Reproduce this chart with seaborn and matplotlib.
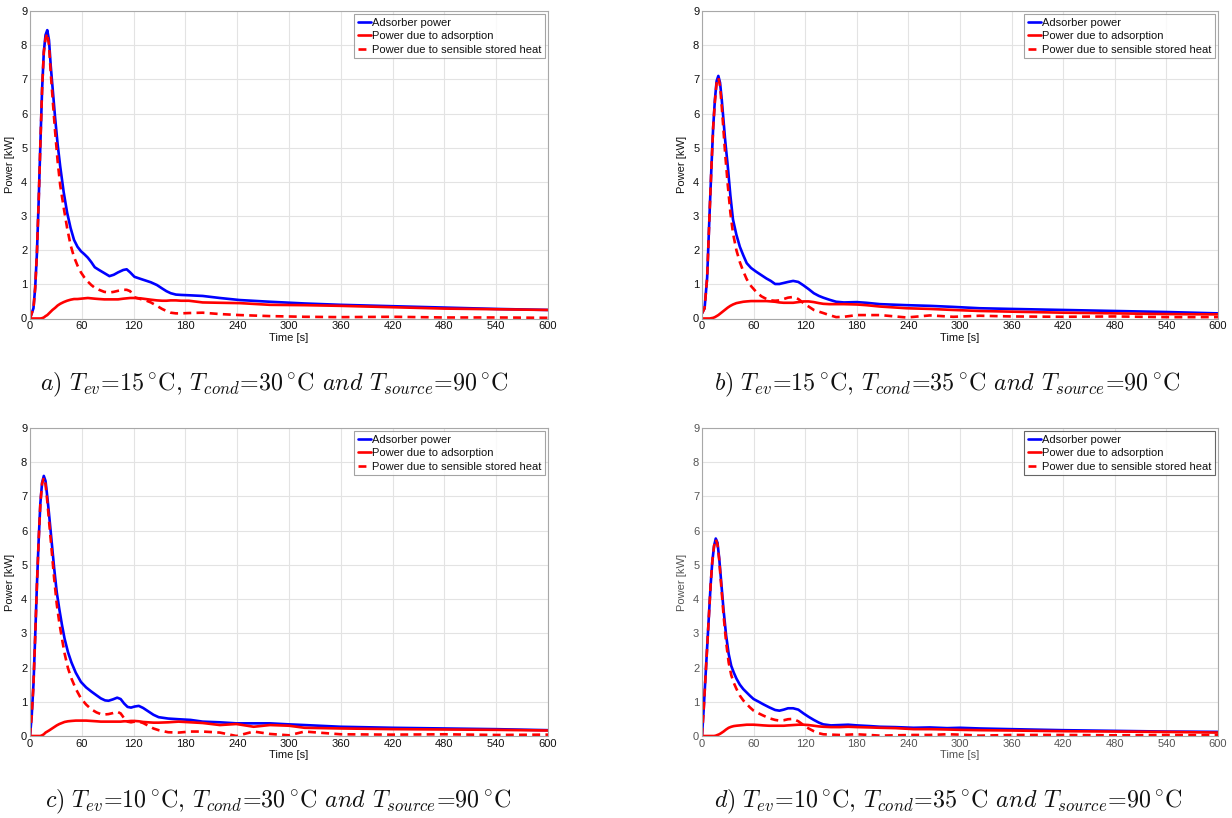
import matplotlib
matplotlib.use("Agg")
import matplotlib.pyplot as plt
import seaborn as sns
import pandas as pd

# ---- panel a: T_ev=15, T_cond=30, T_source=90 ----
time_a = [0, 4, 6, 8, 10, 12, 14, 16, 18, 20, 22, 24, 26, 29, 32, 35, 39, 43, 47, 51,
          55, 59, 63, 67, 71, 75, 80, 86, 92, 97, 102, 108, 112, 116, 121, 128, 134, 140,
          147, 153, 158, 163, 169, 175, 184, 200, 220, 243, 278, 318, 360, 420, 480, 540, 600]
adsorber_a = [0, 0.3, 0.9, 1.9, 3.4, 5.1, 6.7, 7.8, 8.3, 8.44, 8.15, 7.4, 6.8, 5.9, 5.1,
              4.45, 3.7, 3.1, 2.65, 2.3, 2.1, 1.97, 1.88, 1.78, 1.65, 1.5, 1.42, 1.33, 1.24,
              1.28, 1.35, 1.42, 1.44, 1.35, 1.22, 1.16, 1.11, 1.06, 0.98, 0.88, 0.8, 0.74,
              0.70, 0.69, 0.68, 0.66, 0.6, 0.54, 0.49, 0.44, 0.40, 0.36, 0.32, 0.28, 0.25]
adsorption_a = [0, 0, 0, 0, 0, 0, 0.01, 0.03, 0.07, 0.1, 0.15, 0.2, 0.25, 0.31, 0.38, 0.43,
                0.48, 0.52, 0.55, 0.57, 0.57, 0.58, 0.59, 0.6, 0.59, 0.58, 0.57, 0.56, 0.56,
                0.56, 0.56, 0.58, 0.59, 0.6, 0.6, 0.59, 0.57, 0.55, 0.53, 0.52, 0.52, 0.53,
                0.53, 0.52, 0.52, 0.47, 0.46, 0.45, 0.4, 0.39, 0.37, 0.33, 0.29, 0.27, 0.25]
sensible_a = [0, 0.3, 0.9, 1.9, 3.4, 5.1, 6.7, 7.8, 8.2, 8.35, 8.0, 7.2, 6.5, 5.5, 4.6, 3.9,
              3.25, 2.65, 2.15, 1.8, 1.55, 1.35, 1.2, 1.08, 0.98, 0.9, 0.84, 0.78, 0.76,
              0.78, 0.81, 0.84, 0.84, 0.80, 0.62, 0.57, 0.53, 0.47, 0.37, 0.28, 0.22, 0.17,
              0.15, 0.15, 0.16, 0.17, 0.13, 0.1, 0.07, 0.05, 0.04, 0.05, 0.03, 0.03, 0.02]

# ---- panel b: T_ev=15, T_cond=35, T_source=90 ----
time_b = [0, 3, 6, 9, 11, 13, 15, 17, 19, 21, 23, 25, 27, 30, 33, 36, 40, 44, 48, 52,
          57, 63, 69, 75, 80, 85, 90, 95, 100, 106, 112, 118, 124, 130, 136, 141, 148, 156,
          165, 180, 191, 207, 238, 265, 292, 323, 360, 420, 480, 540, 600]
adsorber_b = [0.15, 0.3, 1.2, 3.2, 4.45, 5.6, 6.4, 6.95, 7.1, 6.9, 6.4, 5.8, 5.2, 4.45,
              3.6, 2.9, 2.45, 2.1, 1.85, 1.62, 1.48, 1.37, 1.27, 1.17, 1.1, 1.01, 1.01,
              1.04, 1.07, 1.1, 1.07, 0.97, 0.86, 0.74, 0.66, 0.61, 0.55, 0.49, 0.47, 0.48,
              0.46, 0.42, 0.39, 0.37, 0.34, 0.3, 0.28, 0.25, 0.22, 0.19, 0.15]
adsorption_b = [0, 0, 0, 0, 0.01, 0.02, 0.04, 0.07, 0.1, 0.14, 0.18, 0.22, 0.26, 0.32,
                0.37, 0.41, 0.45, 0.47, 0.49, 0.5, 0.51, 0.51, 0.51, 0.51, 0.5, 0.49, 0.47,
                0.46, 0.46, 0.46, 0.48, 0.5, 0.5, 0.48, 0.45, 0.43, 0.42, 0.42, 0.42, 0.41,
                0.39, 0.35, 0.3, 0.28, 0.25, 0.22, 0.2, 0.17, 0.15, 0.13, 0.12]
sensible_b = [0.15, 0.3, 1.2, 3.2, 4.45, 5.6, 6.35, 6.9, 7.05, 6.8, 6.2, 5.5, 4.8, 3.9,
              3.1, 2.5, 2.0, 1.65, 1.38, 1.15, 0.95, 0.78, 0.65, 0.57, 0.53, 0.52, 0.53,
              0.57, 0.61, 0.63, 0.57, 0.45, 0.35, 0.25, 0.2, 0.16, 0.1, 0.04, 0.05, 0.1,
              0.1, 0.1, 0.03, 0.09, 0.05, 0.08, 0.06, 0.05, 0.06, 0.04, 0.04]

# ---- panel c: T_ev=10, T_cond=30, T_source=90 ----
time_c = [0, 2, 4, 6, 8, 10, 12, 14, 16, 18, 20, 22, 25, 28, 31, 34, 37, 40, 44, 48,
          53, 59, 65, 71, 77, 82, 87, 91, 96, 101, 105, 109, 113, 117, 121, 126, 131, 137,
          143, 149, 160, 172, 186, 200, 220, 239, 259, 278, 300, 318, 360, 420, 480, 540, 600]
adsorber_c = [0, 0.6, 1.5, 2.9, 4.4, 5.7, 6.8, 7.4, 7.6, 7.45, 7.0, 6.5, 5.7, 4.9, 4.2,
              3.7, 3.25, 2.85, 2.45, 2.15, 1.85, 1.58, 1.42, 1.3, 1.19, 1.1, 1.04, 1.03,
              1.07, 1.12, 1.08, 0.95, 0.85, 0.83, 0.86, 0.88, 0.82, 0.72, 0.62, 0.55, 0.51,
              0.49, 0.47, 0.42, 0.4, 0.37, 0.37, 0.37, 0.34, 0.32, 0.27, 0.24, 0.22, 0.2, 0.17]
adsorption_c = [0, 0, 0, 0, 0, 0, 0, 0.02, 0.05, 0.1, 0.13, 0.16, 0.21, 0.26, 0.31, 0.35,
                0.38, 0.41, 0.43, 0.44, 0.45, 0.45, 0.45, 0.44, 0.43, 0.42, 0.42, 0.42,
                0.42, 0.42, 0.42, 0.43, 0.43, 0.44, 0.44, 0.43, 0.41, 0.4, 0.39, 0.39, 0.4,
                0.42, 0.4, 0.38, 0.32, 0.35, 0.27, 0.32, 0.3, 0.24, 0.22, 0.2, 0.19, 0.18, 0.16]
sensible_c = [0, 0.6, 1.5, 2.9, 4.4, 5.7, 6.8, 7.38, 7.55, 7.35, 6.87, 6.3, 5.45, 4.6,
              3.85, 3.3, 2.85, 2.42, 1.98, 1.68, 1.38, 1.1, 0.92, 0.78, 0.69, 0.64, 0.63,
              0.64, 0.67, 0.71, 0.66, 0.52, 0.42, 0.4, 0.42, 0.42, 0.38, 0.3, 0.22, 0.17,
              0.11, 0.1, 0.13, 0.13, 0.1, 0.0, 0.13, 0.06, 0.02, 0.13, 0.05, 0.04, 0.05,
              0.03, 0.04]

# ---- panel d: T_ev=10, T_cond=35, T_source=90 ----
time_d = [0, 2, 4, 6, 8, 10, 12, 14, 16, 18, 20, 22, 25, 28, 31, 34, 37, 40, 44, 48,
          52, 56, 60, 66, 71, 78, 85, 90, 95, 100, 106, 112, 118, 124, 130, 136, 141, 150,
          160, 170, 180, 195, 207, 225, 246, 265, 285, 300, 323, 360, 420, 480, 540, 600]
adsorber_d = [0, 0.8, 1.7, 2.6, 3.5, 4.4, 5.1, 5.55, 5.77, 5.65, 5.2, 4.6, 3.7, 2.95,
              2.4, 2.05, 1.85, 1.68, 1.5, 1.37, 1.27, 1.17, 1.08, 1.0, 0.93, 0.84, 0.76,
              0.74, 0.77, 0.81, 0.81, 0.77, 0.66, 0.56, 0.47, 0.39, 0.34, 0.31, 0.32, 0.33,
              0.31, 0.29, 0.27, 0.26, 0.24, 0.25, 0.23, 0.24, 0.22, 0.2, 0.17, 0.15, 0.13, 0.12]
adsorption_d = [0, 0, 0, 0, 0, 0, 0, 0, 0.01, 0.03, 0.05, 0.08, 0.13, 0.19, 0.24, 0.27,
                0.29, 0.3, 0.31, 0.32, 0.33, 0.33, 0.33, 0.32, 0.31, 0.3, 0.3, 0.3, 0.3,
                0.31, 0.32, 0.33, 0.33, 0.32, 0.3, 0.28, 0.27, 0.26, 0.26, 0.27, 0.26, 0.25,
                0.24, 0.23, 0.2, 0.2, 0.19, 0.18, 0.17, 0.16, 0.14, 0.13, 0.12, 0.1]
sensible_d = [0, 0.8, 1.7, 2.6, 3.5, 4.4, 5.1, 5.55, 5.75, 5.6, 5.15, 4.5, 3.55, 2.75,
              2.15, 1.78, 1.55, 1.38, 1.18, 1.04, 0.93, 0.83, 0.74, 0.66, 0.6, 0.52, 0.47,
              0.45, 0.46, 0.49, 0.5, 0.43, 0.32, 0.22, 0.14, 0.08, 0.05, 0.04, 0.03, 0.04,
              0.05, 0.03, 0.01, 0.02, 0.03, 0.03, 0.05, 0.04, 0.01, 0.03, 0.03, 0.02, 0.03, 0.02]

x_ticks = [0, 60, 120, 180, 240, 300, 360, 420, 480, 540, 600]
y_ticks = [0, 1, 2, 3, 4, 5, 6, 7, 8, 9]

series_labels = ["Adsorber power", "Power due to adsorption",
                 "Power due to sensible stored heat"]

captions = [
    (r"$\mathit{a)}\ T_{ev}$=15$\,^{\circ}$C, $T_{cond}$=30$\,^{\circ}$C "
     r"$\mathit{and}$ $T_{source}$=90$\,^{\circ}$C"),
    (r"$\mathit{b)}\ T_{ev}$=15$\,^{\circ}$C, $T_{cond}$=35$\,^{\circ}$C "
     r"$\mathit{and}$ $T_{source}$=90$\,^{\circ}$C"),
    (r"$\mathit{c)}\ T_{ev}$=10$\,^{\circ}$C, $T_{cond}$=30$\,^{\circ}$C "
     r"$\mathit{and}$ $T_{source}$=90$\,^{\circ}$C"),
    (r"$\mathit{d)}\ T_{ev}$=10$\,^{\circ}$C, $T_{cond}$=35$\,^{\circ}$C "
     r"$\mathit{and}$ $T_{source}$=90$\,^{\circ}$C"),
]

panels = [
    (time_a, adsorber_a, adsorption_a, sensible_a),
    (time_b, adsorber_b, adsorption_b, sensible_b),
    (time_c, adsorber_c, adsorption_c, sensible_c),
    (time_d, adsorber_d, adsorption_d, sensible_d),
]

sns.set_theme(style="whitegrid")
plt.rcParams["font.family"] = ["Liberation Sans", "DejaVu Sans"]
plt.rcParams["mathtext.fontset"] = "cm"
plt.rcParams["axes.formatter.use_mathtext"] = False

W, H = 1232, 818
fig = plt.figure(figsize=(W / 100, H / 100), dpi=100)
fig.patch.set_facecolor("white")

# axes boxes in pixels: left, top, right, bottom
boxes = [(30, 11, 548, 318.5), (702, 11, 1218, 318.5),
         (30, 428, 548, 736), (702, 428, 1218, 736)]
caption_pos = [(40, 385), (714, 385), (45, 802), (714, 802)]

for i, ((t, p_tot, p_ads, p_sens), (l, tp, r, b)) in enumerate(zip(panels, boxes)):
    ax = fig.add_axes([l / W, 1 - b / H, (r - l) / W, (b - tp) / H])
    ax.set_facecolor("white")
    txt_col = "#555555" if i == 3 else "#111111"

    df = pd.DataFrame({"t": t, "tot": p_tot, "ads": p_ads, "sens": p_sens})
    sns.lineplot(data=df, x="t", y="tot", ax=ax, color="#0000ff", linewidth=1.9,
                 label=series_labels[0], sort=False)
    sns.lineplot(data=df, x="t", y="ads", ax=ax, color="#ff0000", linewidth=1.9,
                 label=series_labels[1], sort=False)
    sns.lineplot(data=df, x="t", y="sens", ax=ax, color="#ff0000", linewidth=1.9,
                 linestyle=(0, (3.0, 2.0)), label=series_labels[2], sort=False)

    ax.set_xlim(0, 600)
    ax.set_ylim(0, 9)
    ax.set_xticks(x_ticks)
    ax.set_yticks(y_ticks)
    ax.grid(True, color="#e3e3e3", linewidth=0.8)
    for s in ax.spines.values():
        s.set_color("#a8a8a8")
        s.set_linewidth(0.8)
    ax.tick_params(axis="both", length=0, pad=2, labelsize=8, labelcolor=txt_col)
    ax.set_xlabel("Time [s]", fontsize=8, color=txt_col, labelpad=1)
    ax.set_ylabel("Power [kW]", fontsize=8, color=txt_col, labelpad=4)

    leg = ax.legend(loc="upper right", fontsize=8, frameon=True, fancybox=False,
                    handlelength=1.2, handletextpad=0.1, borderpad=0.3,
                    labelspacing=0.32, borderaxespad=0.3)
    leg.get_frame().set_edgecolor("#8c8c8c" if i < 3 else "#404040")
    leg.get_frame().set_linewidth(0.8)
    for txt in leg.get_texts():
        txt.set_color("#111111")

    cx, cy = caption_pos[i]
    fig.text(cx / W, 1 - cy / H, captions[i], fontsize=17.3, ha="left", va="center",
             color="#111111", family=["cmr10"])

fig.savefig("out.png", dpi=100, facecolor="white")
